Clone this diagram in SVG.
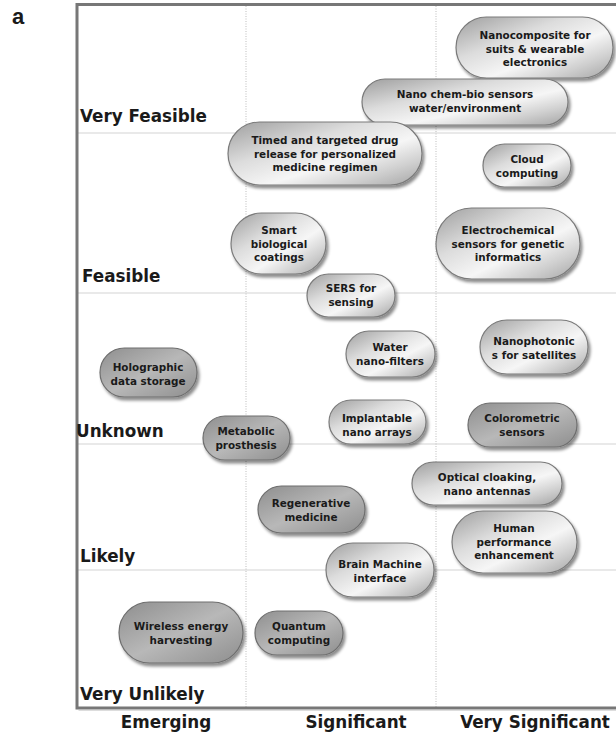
<svg xmlns="http://www.w3.org/2000/svg" width="616" height="736" viewBox="0 0 616 736">
<style>
.ax{font-family:"DejaVu Sans","Verdana",sans-serif;font-weight:bold;font-size:16.8px;fill:#1a1a1a}
.t{font-family:"DejaVu Sans","Verdana",sans-serif;font-weight:bold;font-size:10.4px;fill:#1a1a1a;text-anchor:middle}
.lp{fill:url(#gl);stroke:#7a7a7a;stroke-width:1.2;filter:url(#sh)}
.dp{fill:url(#gd);stroke:#6e6e6e;stroke-width:1.2;filter:url(#sh)}
.hg{stroke:#e2e2e2;stroke-width:1.5}
.vg{stroke:#bdbdbd;stroke-width:1;stroke-dasharray:1 1.5}
</style>
<defs>
<linearGradient id="gl" x1="0" y1="0" x2="1" y2="1">
<stop offset="0" stop-color="#9e9e9e"/>
<stop offset="0.35" stop-color="#dcdcdc"/>
<stop offset="0.6" stop-color="#f6f6f6"/>
<stop offset="0.8" stop-color="#cfcfcf"/>
<stop offset="1" stop-color="#a4a4a4"/>
</linearGradient>
<linearGradient id="gd" x1="0" y1="0" x2="1" y2="1">
<stop offset="0" stop-color="#8e8e8e"/>
<stop offset="0.5" stop-color="#b8b8b8"/>
<stop offset="1" stop-color="#8e8e8e"/>
</linearGradient>
<filter id="sh" x="-10%" y="-15%" width="125%" height="140%">
<feDropShadow dx="2" dy="3" stdDeviation="1.6" flood-color="#000" flood-opacity="0.45"/>
</filter>
</defs>
<rect width="616" height="736" fill="#fff"/>
<g id="grid">
<line class="hg" x1="77" y1="133" x2="616" y2="133"/>
<line class="hg" x1="77" y1="293" x2="616" y2="293"/>
<line class="hg" x1="77" y1="444" x2="616" y2="444"/>
<line class="hg" x1="77" y1="570" x2="616" y2="570"/>
<line class="vg" x1="246" y1="6" x2="246" y2="707"/>
<line class="vg" x1="436" y1="6" x2="436" y2="707"/>
</g>
<g id="frame">
<path d="M616,4.5 H77 V708 H616" fill="none" stroke="#777" stroke-width="3"/>
<path d="M78.5,710 H616" fill="none" stroke="#bbb" stroke-width="1"/>
</g>
<g id="labels">
<text x="12" y="24" style="font-family:'Liberation Sans',Arial,sans-serif;font-weight:bold;font-size:22px;fill:#1a1a1a">a</text>
<text class="ax" x="80" y="122">Very Feasible</text>
<text class="ax" x="82" y="282">Feasible</text>
<text class="ax" x="76" y="437">Unknown</text>
<text class="ax" x="80" y="562">Likely</text>
<text class="ax" x="80" y="700">Very Unlikely</text>
<text class="ax" x="166" y="728" text-anchor="middle">Emerging</text>
<text class="ax" x="356" y="728" text-anchor="middle">Significant</text>
<text class="ax" x="535" y="728" text-anchor="middle">Very Significant</text>
</g>
<g id="connectors"></g>
<g id="n1"><rect class="lp" x="456" y="17" width="157" height="61" rx="30.5"/><text class="t" x="535" y="39">Nanocomposite for</text><text class="t" x="535" y="52.5">suits &amp; wearable</text><text class="t" x="535" y="66">electronics</text></g>
<g id="n2"><rect class="lp" x="362" y="79" width="206" height="46" rx="23"/><text class="t" x="465" y="98">Nano chem-bio sensors</text><text class="t" x="465" y="111.5">water/environment</text></g>
<g id="n3"><rect class="lp" x="228" y="122" width="194" height="63" rx="31.5"/><text class="t" x="325" y="144">Timed and targeted drug</text><text class="t" x="325" y="157.5">release for personalized</text><text class="t" x="325" y="171">medicine regimen</text></g>
<g id="n4"><rect class="lp" x="483" y="144" width="88" height="43" rx="21.5"/><text class="t" x="527" y="163">Cloud</text><text class="t" x="527" y="176.5">computing</text></g>
<g id="n5"><rect class="lp" x="231" y="213" width="95" height="61" rx="30.5"/><text class="t" x="279" y="234">Smart</text><text class="t" x="279" y="247.5">biological</text><text class="t" x="279" y="261">coatings</text></g>
<g id="n6"><rect class="lp" x="436" y="208" width="144" height="71" rx="35.5"/><text class="t" x="508" y="234">Electrochemical</text><text class="t" x="508" y="247.5">sensors for genetic</text><text class="t" x="508" y="261">informatics</text></g>
<g id="n7"><rect class="lp" x="307" y="274" width="88" height="43" rx="21.5"/><text class="t" x="351" y="292">SERS for</text><text class="t" x="351" y="305.5">sensing</text></g>
<g id="n8"><rect class="lp" x="346" y="331" width="89" height="46" rx="23"/><text class="t" x="390" y="351">Water</text><text class="t" x="390" y="364.5">nano-filters</text></g>
<g id="n9"><rect class="lp" x="480" y="320" width="108" height="54" rx="27"/><text class="t" x="534" y="345">Nanophotonic</text><text class="t" x="534" y="358.5">s for satellites</text></g>
<g id="n10"><rect class="dp" x="100" y="348" width="97" height="49" rx="24.5"/><text class="t" x="148" y="371">Holographic</text><text class="t" x="148" y="384.5">data storage</text></g>
<g id="n11"><rect class="dp" x="203" y="416" width="87" height="44" rx="22"/><text class="t" x="246" y="435">Metabolic</text><text class="t" x="246" y="448.5">prosthesis</text></g>
<g id="n12"><rect class="lp" x="329" y="400" width="97" height="44" rx="22"/><text class="t" x="377" y="422">Implantable</text><text class="t" x="377" y="435.5">nano arrays</text></g>
<g id="n13"><rect class="dp" x="468" y="403" width="109" height="44" rx="22"/><text class="t" x="522" y="422">Colorometric</text><text class="t" x="522" y="435.5">sensors</text></g>
<g id="n14"><rect class="lp" x="412" y="462" width="150" height="43" rx="21.5"/><text class="t" x="487" y="481">Optical cloaking,</text><text class="t" x="487" y="494.5">nano antennas</text></g>
<g id="n15"><rect class="dp" x="258" y="486" width="107" height="47" rx="23.5"/><text class="t" x="311" y="507">Regenerative</text><text class="t" x="311" y="520.5">medicine</text></g>
<g id="n16"><rect class="lp" x="452" y="511" width="125" height="62" rx="31"/><text class="t" x="514" y="532">Human</text><text class="t" x="514" y="545.5">performance</text><text class="t" x="514" y="559">enhancement</text></g>
<g id="n17"><rect class="lp" x="326" y="543" width="108" height="54" rx="27"/><text class="t" x="380" y="568">Brain Machine</text><text class="t" x="380" y="581.5">interface</text></g>
<g id="n18"><rect class="dp" x="119" y="602" width="124" height="61" rx="30.5"/><text class="t" x="181" y="630">Wireless energy</text><text class="t" x="181" y="643.5">harvesting</text></g>
<g id="n19"><rect class="dp" x="255" y="611" width="88" height="44" rx="22"/><text class="t" x="299" y="630">Quantum</text><text class="t" x="299" y="643.5">computing</text></g>
</svg>
